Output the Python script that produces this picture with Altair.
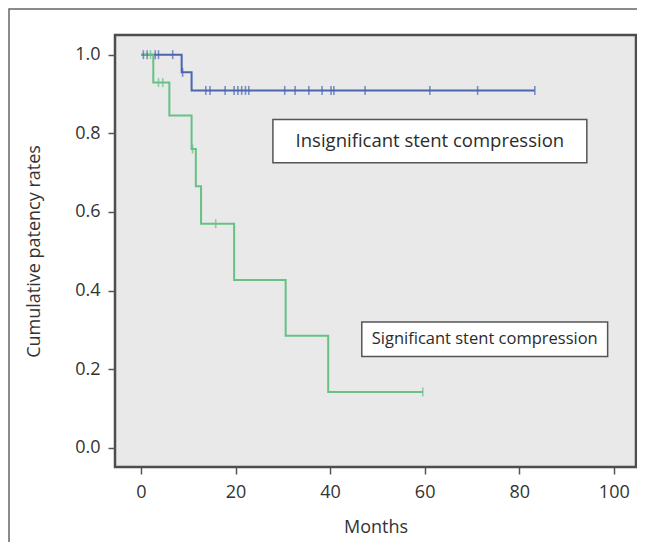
import altair as alt
import pandas as pd

# Kaplan-Meier step data (months, cumulative patency)
blue_t = [0, 8.6, 10.7, 83.3]
blue_s = [1.0, 0.955, 0.909, 0.909]
green_t = [0, 2.6, 6.0, 10.7, 11.6, 12.7, 19.7, 30.6, 39.6, 59.6]
green_s = [1.0, 0.929, 0.845, 0.760, 0.665, 0.570, 0.427, 0.285, 0.142, 0.142]

# censor marks
blue_ct = [0.5, 1.3, 3.0, 3.7, 6.7, 8.8, 13.7, 14.6, 17.8, 19.7, 20.5, 21.3, 22.1,
           22.8, 30.4, 32.6, 35.5, 38.3, 40.2, 40.8, 47.4, 61.1, 71.2, 83.3]
blue_cs = [1.0, 1.0, 1.0, 1.0, 1.0, 0.955, 0.909, 0.909, 0.909, 0.909, 0.909, 0.909, 0.909,
           0.909, 0.909, 0.909, 0.909, 0.909, 0.909, 0.909, 0.909, 0.909, 0.909, 0.909]
green_ct = [2.0, 3.7, 4.6, 10.9, 15.8, 59.6]
green_cs = [1.0, 0.929, 0.929, 0.760, 0.570, 0.142]

groups = ["Insignificant", "Significant"]
colors = ["#4a66b0", "#66c185"]

x_ticks = [0, 20, 40, 60, 80, 100]
y_ticks = [0.0, 0.2, 0.4, 0.6, 0.8, 1.0]

FONT = "Open Sans"

steps = pd.DataFrame(
    [{"t": t, "s": s, "g": groups[0]} for t, s in zip(blue_t, blue_s)]
    + [{"t": t, "s": s, "g": groups[1]} for t, s in zip(green_t, green_s)]
)
cens = pd.DataFrame(
    [{"t": t, "s": s, "g": groups[0]} for t, s in zip(blue_ct, blue_cs)]
    + [{"t": t, "s": s, "g": groups[1]} for t, s in zip(green_ct, green_cs)]
)

xs = alt.Scale(domain=[-5.5, 104.7], nice=False, zero=False)
ys = alt.Scale(domain=[-0.049, 1.05], nice=False, zero=False)
cs = alt.Scale(domain=groups, range=colors)

X = alt.X("t:Q", scale=xs, title="Months",
          axis=alt.Axis(values=x_ticks, format="d", titleY=51))
Y = alt.Y("s:Q", scale=ys, title="Cumulative patency rates",
          axis=alt.Axis(values=y_ticks, format=".1f", titleX=-72, titleY=216))

lines = alt.Chart(steps).mark_line(interpolate="step-after", strokeWidth=2).encode(
    x=X, y=Y, color=alt.Color("g:N", scale=cs, legend=None), detail="g:N")

ticks = alt.Chart(cens).mark_tick(orient="vertical", size=9, thickness=1.6).encode(
    x="t:Q", y="s:Q", color=alt.Color("g:N", scale=cs, legend=None))

one = pd.DataFrame({"a": [0]})
outer = alt.Chart(one).mark_rect(fillOpacity=0, stroke="#666666", strokeWidth=1.5).encode(
    x=alt.value(-106), x2=alt.value(700), y=alt.value(-26), y2=alt.value(700))

boxes = pd.DataFrame({
    "x1": [27.9, 46.7], "x2": [94.3, 98.7],
    "y1": [0.835, 0.320], "y2": [0.725, 0.232],
    "xm": [61.1, 72.7], "ym": [0.781, 0.277],
    "fs": [18.5, 16.5],
    "label": ["Insignificant stent compression", "Significant stent compression"],
})
box_rects = alt.Chart(boxes).mark_rect(fill="white", stroke="#555555", strokeWidth=1.5).encode(
    x="x1:Q", x2="x2:Q", y="y1:Q", y2="y2:Q")
box_text = alt.Chart(boxes).mark_text(font=FONT, color="#2b2b2b",
                                      align="center", baseline="middle").encode(
    x="xm:Q", y="ym:Q", text="label:N",
    size=alt.Size("fs:Q", scale=None, legend=None))

chart = alt.layer(outer, lines, ticks, box_rects, box_text).properties(
    width=521, height=432,
    autosize=alt.AutoSizeParams(type="none"),
    padding={"left": 107, "top": 27, "right": 1, "bottom": 75},
).configure_view(
    fill="#e9e9e9", stroke="#4d4d4d", strokeWidth=2.5
).configure_axis(
    domain=False, grid=False, tickColor="#555555", tickSize=7, tickWidth=1.5,
    labelColor="#333333", labelFont=FONT, labelFontSize=18, labelPadding=8,
    titleColor="#333333", titleFont=FONT, titleFontSize=18, titleFontWeight="normal",
).configure_axisX(labelPadding=9)

chart.save("out.html", embed_options={"renderer": "svg", "actions": False})
